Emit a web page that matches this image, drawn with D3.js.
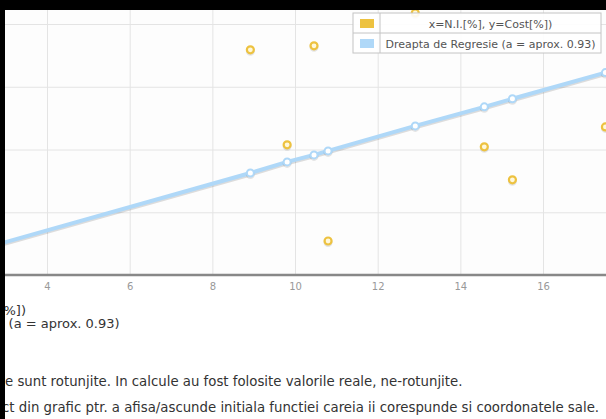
<!DOCTYPE html>
<html>
<head>
<meta charset="utf-8">
<script src="https://cdn.jsdelivr.net/npm/d3@7"></script>
<style>
  body { margin: 0; background: #fff; }
  svg { display: block; font-family: "DejaVu Sans", Verdana, sans-serif; }
</style>
</head>
<body>
<script>
// N.I. [%] vs Cost [%]
var niValues   = [8.92, 9.81, 10.46, 10.80, 12.91, 14.58, 15.26, 17.51];
var costValues = [17.94, 10.37, 18.26, 2.71, 20.88, 10.21, 7.58, 11.80];

// dreapta de regresie
var regX = [2.5, 8.92, 9.81, 10.46, 10.80, 12.91, 14.58, 15.26, 17.51];
var regY = [2.16, 8.13, 9.01, 9.57, 9.89, 11.88, 13.40, 14.04, 16.13];

var xTicks = [4, 6, 8, 10, 12, 14, 16];
var xGrid  = [2, 4, 6, 8, 10, 12, 14, 16, 18];
var yGrid  = [0, 5, 10, 15, 20, 25];

var legendLabels = ["x=N.I.[%], y=Cost[%])", "Dreapta de Regresie (a = aprox. 0.93)"];
var colors = ["#edc240", "#afd8f8"];

var noteLines = [
  "Nota: Valorile afisate sunt rotunjite. In calcule au fost folosite valorile reale, ne-rotunjite.",
  "Click pe orice punct din grafic ptr. a afisa/ascunde initiala functiei careia ii corespunde si coordonatele sale."
];
// partea din fiecare rand care iese din captura, in stanga
var notePrefix = ["Nota: Valorile afisat", "Click pe orice pun"];

var W = 606, H = 419;
var axisY = 275;

var x = d3.scaleLinear().domain([4, 16]).range([47, 543]);
var y = d3.scaleLinear().domain([0, 20]).range([axisY, 24]);

var svg = d3.select("body").append("svg")
    .attr("width", W)
    .attr("height", H);

svg.append("rect").attr("width", W).attr("height", H).attr("fill", "#fff");

svg.append("defs").append("clipPath").attr("id", "plotclip")
  .append("rect").attr("x", 5).attr("y", 0).attr("width", W - 5).attr("height", axisY);

var plot = svg.append("g").attr("clip-path", "url(#plotclip)");

plot.append("rect").attr("x", 5).attr("y", 0).attr("width", W - 5).attr("height", axisY)
    .attr("fill", "#fdfdfd");

// grid
plot.append("g")
    .attr("transform", "translate(0," + axisY + ")")
    .call(d3.axisBottom(x).tickValues(xGrid).tickSize(-axisY).tickFormat(""))
    .call(function(g) { g.select(".domain").remove(); })
    .selectAll("line").attr("stroke", "#e4e4e4");

plot.append("g")
    .call(d3.axisLeft(y).tickValues(yGrid).tickSize(-W).tickFormat(""))
    .call(function(g) { g.select(".domain").remove(); })
    .selectAll("line").attr("stroke", "#e4e4e4");

// regression line
var line = d3.line()
    .x(function(d, i) { return x(regX[i]); })
    .y(function(d) { return y(d); });

plot.append("path")
    .datum(regY)
    .attr("fill", "none")
    .attr("stroke", "rgba(0,0,0,0.13)")
    .attr("stroke-width", 4)
    .attr("transform", "translate(0,1.5)")
    .attr("d", line);

plot.append("path")
    .datum(regY)
    .attr("fill", "none")
    .attr("stroke", "#afd8f8")
    .attr("stroke-width", 4)
    .attr("d", line);

// points on regression line
var regPts = plot.selectAll(".regpt")
    .data(regY)
    .enter().append("g").attr("class", "regpt");

regPts.append("circle")
    .attr("cx", function(d, i) { return x(regX[i]); })
    .attr("cy", function(d) { return y(d) + 1.5; })
    .attr("r", 3.5)
    .attr("fill", "none")
    .attr("stroke", "rgba(0,0,0,0.1)")
    .attr("stroke-width", 2);

regPts.append("circle")
    .attr("cx", function(d, i) { return x(regX[i]); })
    .attr("cy", function(d) { return y(d); })
    .attr("r", 3.5)
    .attr("fill", "#fff")
    .attr("stroke", colors[1])
    .attr("stroke-width", 2);

// data points
var pts = plot.selectAll(".pt")
    .data(costValues)
    .enter().append("g").attr("class", "pt");

pts.append("circle")
    .attr("cx", function(d, i) { return x(niValues[i]); })
    .attr("cy", function(d) { return y(d) + 1.5; })
    .attr("r", 3.5)
    .attr("fill", "none")
    .attr("stroke", "rgba(0,0,0,0.1)")
    .attr("stroke-width", 2);

pts.append("circle")
    .attr("cx", function(d, i) { return x(niValues[i]); })
    .attr("cy", function(d) { return y(d); })
    .attr("r", 3.5)
    .attr("fill", "#fff8dc")
    .attr("stroke", colors[0])
    .attr("stroke-width", 2.2);

// bottom border / axis
svg.append("line")
    .attr("x1", 5).attr("x2", W)
    .attr("y1", axisY).attr("y2", axisY)
    .attr("stroke", "#888")
    .attr("stroke-width", 2.5);

var xAxis = svg.append("g")
    .attr("transform", "translate(0," + axisY + ")")
    .call(d3.axisBottom(x).tickValues(xTicks).tickSize(0).tickPadding(8));
xAxis.select(".domain").remove();
xAxis.selectAll("text")
    .attr("fill", "#999")
    .style("font-size", "10px")
    .style("font-family", "DejaVu Sans, Verdana, sans-serif");

// legend
var lg = svg.append("g").attr("transform", "translate(353,13)");
var lgW = 248, rowH = 20, boxCol = 27;

lg.append("rect")
    .attr("width", lgW).attr("height", rowH * 2)
    .attr("fill", "#fff").attr("fill-opacity", 0.9)
    .attr("stroke", "#c4c4c4");
lg.append("line").attr("x1", 0).attr("x2", lgW).attr("y1", rowH).attr("y2", rowH)
    .attr("stroke", "#c4c4c4");
lg.append("line").attr("x1", boxCol).attr("x2", boxCol).attr("y1", 0).attr("y2", rowH * 2)
    .attr("stroke", "#c4c4c4");

var rows = lg.selectAll(".lrow")
    .data(legendLabels)
    .enter().append("g")
    .attr("transform", function(d, i) { return "translate(0," + (i * rowH) + ")"; });

rows.append("rect")
    .attr("x", 7).attr("y", 6)
    .attr("width", 14).attr("height", 9)
    .attr("fill", function(d, i) { return colors[i]; });

rows.append("text")
    .attr("x", boxCol + (lgW - boxCol) / 2)
    .attr("y", 14.5)
    .attr("text-anchor", "middle")
    .attr("fill", "#545454")
    .style("font-size", "11px")
    .text(function(d) { return d; });

// text below the chart (cut on the left in the screenshot)
var below = svg.append("g").attr("fill", "#333").style("font-size", "13px");

function placeAfter(sel, prefix, endX) {
  var tmp = below.append("text").attr("y", -50).text(prefix);
  var w = tmp.node().getComputedTextLength();
  tmp.remove();
  sel.attr("x", endX - w);
}

below.append("text")
    .attr("x", 26).attr("y", 315)
    .attr("text-anchor", "end")
    .text(legendLabels[0]);

var t2 = below.append("text").attr("y", 328).text(legendLabels[1]);
placeAfter(t2, "Dreapta de Regresie", 4.5);

noteLines.forEach(function(s, i) {
  var t = below.append("text").attr("y", i === 0 ? 386 : 412)
      .style("font-size", "13.3px").text(s);
  var tmp = below.append("text").attr("y", -50).style("font-size", "13.3px").text(notePrefix[i]);
  var w = tmp.node().getComputedTextLength();
  tmp.remove();
  t.attr("x", (i === 0 ? 5 : 2) - w);
});

// black frame of the screenshot
svg.append("rect").attr("x", 0).attr("y", 0).attr("width", W).attr("height", 10).attr("fill", "#000");
svg.append("rect").attr("x", 0).attr("y", 0).attr("width", 5).attr("height", H).attr("fill", "#000");
</script>
</body>
</html>
